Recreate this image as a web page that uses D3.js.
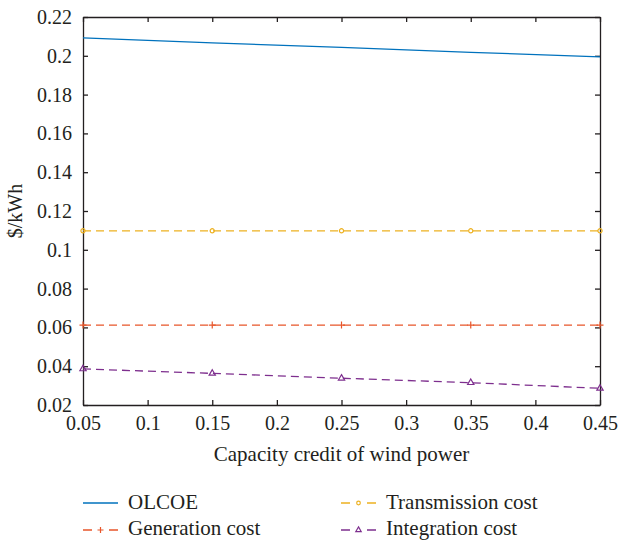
<!DOCTYPE html>
<html>
<head>
<meta charset="utf-8">
<script src="https://cdn.jsdelivr.net/npm/d3@7"></script>
<style>
  body { margin: 0; background: #fff; }
  svg text { font-family: "Liberation Serif", serif; fill: #231f20; }
</style>
</head>
<body>
<div id="chart"></div>
<script>
// capacity credit of wind power
var credit = [0.05, 0.15, 0.25, 0.35, 0.45];
var olcoe = [0.2092, 0.2067, 0.2043, 0.2018, 0.1994];
var generation = [0.0612, 0.0612, 0.0612, 0.0612, 0.0612];
var transmission = [0.1098, 0.1098, 0.1098, 0.1098, 0.1098];
var integration = [0.0386, 0.0363, 0.0338, 0.0315, 0.0286];
var xTicks = [0.05, 0.1, 0.15, 0.2, 0.25, 0.3, 0.35, 0.4, 0.45];
var yTicks = [0.02, 0.04, 0.06, 0.08, 0.1, 0.12, 0.14, 0.16, 0.18, 0.2, 0.22];

var series = [
    {name: "OLCOE", values: olcoe, color: "#0072bd", dash: null, marker: "none"}
  , {name: "Generation cost", values: generation, color: "#e8562a", dash: "8,5", marker: "plus"}
  , {name: "Transmission cost", values: transmission, color: "#edb120", dash: "8,5", marker: "circle"}
  , {name: "Integration cost", values: integration, color: "#7e2f8e", dash: "8,5", marker: "triangle"}
];

var W = 619, H = 540
  , margin = {top: 17, right: 19, bottom: 135, left: 83}
  , width = W - margin.left - margin.right
  , height = H - margin.top - margin.bottom
  , font = "'Liberation Serif', serif"
;

var svg = d3.select("#chart").append("svg")
    .attr("width", W)
    .attr("height", H);

var g = svg.append("g")
    .attr("transform", "translate(" + margin.left + "," + margin.top + ")");

var x = d3.scaleLinear().domain([0.05, 0.45]).range([0, width]);
var y = d3.scaleLinear().domain([0.02, 0.22]).range([height, 0]);

var fmt = function(d) { return d3.format("")(+d.toFixed(2)); };

// axes, ticks pointing inward on all sides
g.append("g")
    .attr("class", "axis axis--x")
    .attr("transform", "translate(0," + height + ")")
    .call(d3.axisBottom(x).tickValues(xTicks).tickSizeInner(-5).tickSizeOuter(0).tickPadding(11).tickFormat(fmt));
g.append("g")
    .attr("class", "axis axis--top")
    .call(d3.axisTop(x).tickValues(xTicks).tickSizeInner(-5).tickSizeOuter(0).tickFormat(""));
g.append("g")
    .attr("class", "axis axis--y")
    .call(d3.axisLeft(y).tickValues(yTicks).tickSizeInner(-5).tickSizeOuter(0).tickPadding(11).tickFormat(fmt));
g.append("g")
    .attr("class", "axis axis--right")
    .attr("transform", "translate(" + width + ",0)")
    .call(d3.axisRight(y).tickValues(yTicks).tickSizeInner(-5).tickSizeOuter(0).tickFormat(""));

g.selectAll(".axis")
    .attr("font-family", font)
    .attr("font-size", 20);
g.selectAll(".axis path, .axis line")
    .attr("stroke", "#231f20")
    .attr("stroke-width", 1.3);
g.selectAll(".axis text")
    .attr("fill", "#231f20");

// lines
var line = d3.line()
    .x(function(d, i) { return x(credit[i]); })
    .y(function(d) { return y(d); });

function marker(sel, type, color, size) {
    if (type === "plus") {
        sel.append("path")
            .attr("d", "M" + (-size) + ",0H" + size + "M0," + (-size) + "V" + size)
            .attr("stroke", color).attr("stroke-width", 1.2).attr("fill", "none");
    } else if (type === "circle") {
        sel.append("circle")
            .attr("r", size * 0.6)
            .attr("stroke", color).attr("stroke-width", 1.2).attr("fill", "none");
    } else if (type === "triangle") {
        sel.append("path")
            .attr("d", d3.symbol().type(d3.symbolTriangle).size(size * size * 1.4)())
            .attr("stroke", color).attr("stroke-width", 1.2).attr("fill", "none");
    }
}

series.forEach(function(s) {
    g.append("path")
        .datum(s.values)
        .attr("d", line)
        .attr("fill", "none")
        .attr("stroke", s.color)
        .attr("stroke-width", 1.3)
        .attr("stroke-dasharray", s.dash);
    s.values.forEach(function(v, i) {
        var m = g.append("g")
            .attr("transform", "translate(" + x(credit[i]) + "," + y(v) + ")");
        marker(m, s.marker, s.color, 3.5);
    });
});

// axis labels
svg.append("text")
    .attr("x", margin.left + width / 2)
    .attr("y", 461)
    .attr("text-anchor", "middle")
    .attr("font-size", 21)
    .text("Capacity credit of wind power");
svg.append("text")
    .attr("transform", "translate(22," + (margin.top + height / 2) + ") rotate(-90)")
    .attr("text-anchor", "middle")
    .attr("font-size", 20)
    .text("$/kWh");

// legend
var legendPos = [
    {x: 83, y: 503}
  , {x: 83, y: 530}
  , {x: 341, y: 503}
  , {x: 341, y: 530}
];
series.forEach(function(s, i) {
    var p = legendPos[i];
    var lg = svg.append("g").attr("transform", "translate(" + p.x + "," + p.y + ")");
    lg.append("line")
        .attr("x1", 0).attr("x2", 35)
        .attr("stroke", s.color)
        .attr("stroke-width", 1.3)
        .attr("stroke-dasharray", s.dash ? "9,17,9" : null);
    var m = lg.append("g").attr("transform", "translate(17.5,0)");
    marker(m, s.marker, s.color, 3);
    lg.append("text")
        .attr("x", 45)
        .attr("y", i % 2 ? 5 : 6)
        .attr("font-size", 21)
        .text(s.name);
});
</script>
</body>
</html>
